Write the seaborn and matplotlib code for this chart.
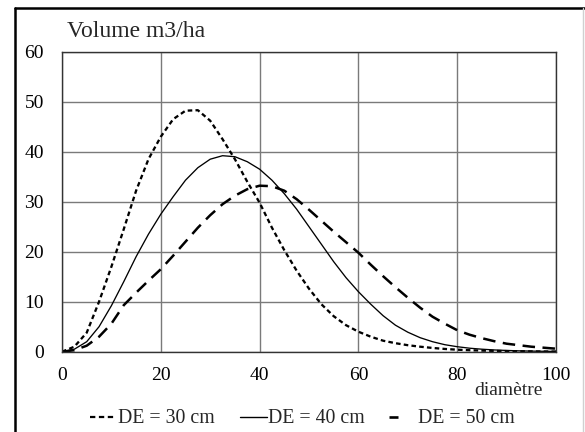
import numpy as np
import pandas as pd
import matplotlib
matplotlib.use("Agg")
import matplotlib.pyplot as plt
from matplotlib.lines import Line2D
import seaborn as sns

# ---- data ----
diametre = [0, 2.5, 5, 7.5, 10, 12.5, 15, 17.5, 20, 22.5, 25, 27.5, 30, 32.5, 35, 37.5,
            40, 42.5, 45, 47.5, 50, 52.5, 55, 57.5, 60, 62.5, 65, 67.5, 70, 72.5, 75,
            77.5, 80, 82.5, 85, 87.5, 90, 92.5, 95, 97.5, 100]
de30 = [0, 1.0, 3.8, 10, 17, 24.5, 32.2, 38.5, 43, 46.5, 48.2, 48.3, 46.2, 42.5, 38.5,
        34, 29.8, 24.8, 20.3, 16.2, 12.6, 9.5, 7.1, 5.3, 4.0, 3.0, 2.2, 1.7, 1.3, 1.0,
        0.75, 0.55, 0.4, 0.3, 0.22, 0.16, 0.12, 0.09, 0.06, 0.04, 0.03]
de40 = [0, 0.5, 2.0, 5.0, 9.2, 14, 19, 23.5, 27.5, 31, 34.3, 36.8, 38.5, 39.2, 39.0,
        38.0, 36.5, 34.3, 31.6, 28.5, 25.0, 21.5, 18.0, 14.8, 12.0, 9.5, 7.2, 5.3,
        3.9, 2.8, 2.0, 1.4, 1.0, 0.7, 0.5, 0.35, 0.25, 0.17, 0.12, 0.08, 0.05]
de50 = [0, 0.3, 1.2, 3.0, 5.6, 9.3, 11.8, 14.2, 16.5, 19.2, 22.0, 24.8, 27.3, 29.5,
        31.2, 32.5, 33.2, 33.1, 32.2, 30.5, 28.4, 26.2, 24.0, 21.9, 19.8, 17.4, 15.1,
        12.9, 10.8, 8.8, 7.0, 5.6, 4.3, 3.4, 2.7, 2.1, 1.6, 1.3, 1.0, 0.8, 0.6]
series_labels = ["DE = 30 cm", "DE = 40 cm", "DE = 50 cm"]
x_ticks = [0, 20, 40, 60, 80, 100]
y_ticks = [0, 10, 20, 30, 40, 50, 60]
y_title = "Volume m3/ha"
x_title = "diamètre"

sns.set_theme(style="white")
plt.rcParams['font.family'] = ['Liberation Serif', 'DejaVu Serif']

W, H = 585, 432
fig = plt.figure(figsize=(W / 100, H / 100), dpi=100)
ax = fig.add_axes([62 / W, 1 - 351.7 / H, (556 - 62) / W, (351.7 - 51.7) / H])

styles = [
    dict(linestyle=(0, (2.0, 1.4)), linewidth=1.65),
    dict(linestyle='-', linewidth=0.95),
    dict(linestyle=(0, (5.0, 3.0)), linewidth=1.8),
]
for vals, lab, st in zip([de30, de40, de50], series_labels, styles):
    df = pd.DataFrame({"d": diametre, "v": vals})
    sns.lineplot(data=df, x="d", y="v", ax=ax, color="black", label=lab, legend=False, **st)

ax.set_xlim(0, 100)
ax.set_ylim(0, 60)
ax.set_xticks(x_ticks)
ax.set_yticks(y_ticks)
ax.set_xticklabels([str(t) for t in x_ticks])
ax.set_yticklabels([str(t) for t in y_ticks])
ax.set_xlabel("")
ax.set_ylabel("")
ax.grid(True, color="#7a7a7a", linewidth=1.0)
ax.set_axisbelow(True)
for s in ax.spines.values():
    s.set_visible(True)
    s.set_color("#333333")
    s.set_linewidth(1.0)
ax.tick_params(axis='both', length=0, labelsize=14, colors="black")
ax.tick_params(axis='x', pad=11)
ax.tick_params(axis='y', pad=13)

fig.text(67 / W, 1 - 37.3 / H, y_title, fontsize=17, va='baseline', ha='left')
fig.text(508 / W, 1 - 395 / H, x_title, fontsize=14, va='baseline', ha='center')

# legend row drawn as handles + labels
tr = fig.transFigure
yb = 1 - 423.3 / H
yh = 1 - 417 / H
fig.add_artist(Line2D([90 / W, 114 / W], [yh, yh], color='black', linewidth=1.6,
                      linestyle=(0, (2.4, 1.6)), transform=tr))
fig.add_artist(Line2D([240 / W, 267 / W], [yh, yh], color='black', linewidth=1.0,
                      linestyle='-', transform=tr))
fig.add_artist(Line2D([389 / W, 398 / W], [yh, yh], color='black', linewidth=1.9,
                      linestyle='-', solid_capstyle='butt', transform=tr))
for xs, lab in zip([118, 268, 418], series_labels):
    fig.text(xs / W, yb, lab, fontsize=14.3, va='baseline', ha='left')

# figure border (left and top dark, right faint)
fig.add_artist(Line2D([15 / W, 15 / W], [0, 1 - 8 / H], color='black', linewidth=1.8,
                      transform=tr))
fig.add_artist(Line2D([15 / W, 1], [1 - 8 / H, 1 - 8 / H], color='black', linewidth=1.8,
                      transform=tr))
fig.add_artist(Line2D([582.5 / W, 582.5 / W], [0, 1 - 8 / H], color='#d0d0d0', linewidth=1.0,
                      transform=tr))

fig.savefig("out.png", dpi=100)
